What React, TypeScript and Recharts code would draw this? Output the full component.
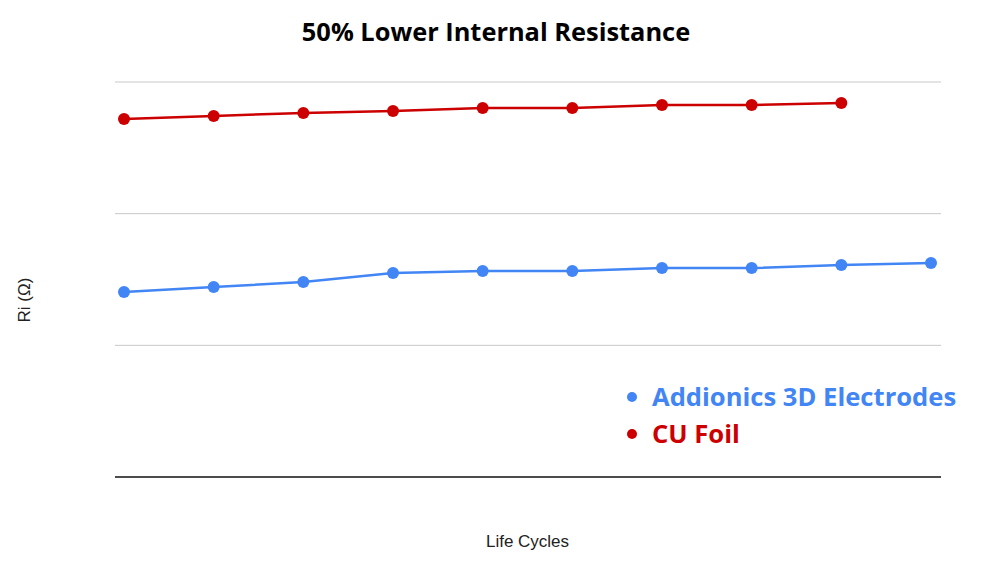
import React from "react";
import { LineChart, Line, XAxis, YAxis, ReferenceLine } from "recharts";

const cycles = ["1", "2", "3", "4", "5", "6", "7", "8", "9", "10"];
const addionics = [1.405, 1.443, 1.481, 1.549, 1.565, 1.565, 1.587, 1.587, 1.61, 1.625];
const cuFoil = [2.719, 2.742, 2.765, 2.78, 2.802, 2.802, 2.825, 2.825, 2.84, null];
const gridValues = [1, 2, 3];

const data = cycles.map((c, i) => ({ c, a: addionics[i], f: cuFoil[i] }));
const BLUE = "#4285f4";
const RED = "#cc0000";

export default function App() {
  return (
    <div style={{ position: "relative", width: 1000, height: 583, margin: -8, background: "#fff" }}>
      <LineChart width={1000} height={583} data={data} margin={{ top: 82, right: 59, bottom: 106, left: 115 }}>
        <XAxis dataKey="c" hide padding={{ left: 9, right: 10 }} />
        <YAxis hide domain={[0, 3]} width={0} />
        {gridValues.map((v) => (
          <ReferenceLine key={v} y={v} stroke="#c8c8c8" strokeWidth={1} />
        ))}
        <ReferenceLine y={0} stroke="#111" strokeWidth={1.5} />
        <Line dataKey="a" stroke={BLUE} strokeWidth={2.5} dot={{ r: 6, fill: BLUE, stroke: BLUE, strokeWidth: 0 }} isAnimationActive={false} />
        <Line dataKey="f" stroke={RED} strokeWidth={2.5} dot={{ r: 6, fill: RED, stroke: RED, strokeWidth: 0 }} isAnimationActive={false} />
      </LineChart>
      <div style={{ position: "absolute", top: 14, left: 0, width: 992, textAlign: "center", fontFamily: "'Open Sans'", fontWeight: 700, fontSize: 25.4, color: "#000" }}>
        50% Lower Internal Resistance
      </div>
      <div style={{ position: "absolute", top: 532, left: 0, width: 1055, textAlign: "center", fontFamily: "'Liberation Sans'", fontSize: 17, color: "#222" }}>
        Life Cycles
      </div>
      <div style={{ position: "absolute", top: 300, left: 25, transform: "translate(-50%,-50%) rotate(-90deg)", fontFamily: "'Liberation Sans'", fontSize: 17, color: "#222", whiteSpace: "nowrap" }}>
        Ri (Ω)
      </div>
      {[{ t: "Addionics 3D Electrodes", c: BLUE, y: 379 }, { t: "CU Foil", c: RED, y: 416 }].map((l) => (
        <div key={l.t} style={{ position: "absolute", top: l.y, left: 627, display: "flex", alignItems: "center", fontFamily: "'Open Sans'", fontWeight: 700, fontSize: 25.6, color: l.c, whiteSpace: "nowrap" }}>
          <span style={{ display: "inline-block", width: 10, height: 10, borderRadius: 5, background: l.c, marginRight: 15 }} />
          {l.t}
        </div>
      ))}
    </div>
  );
}
